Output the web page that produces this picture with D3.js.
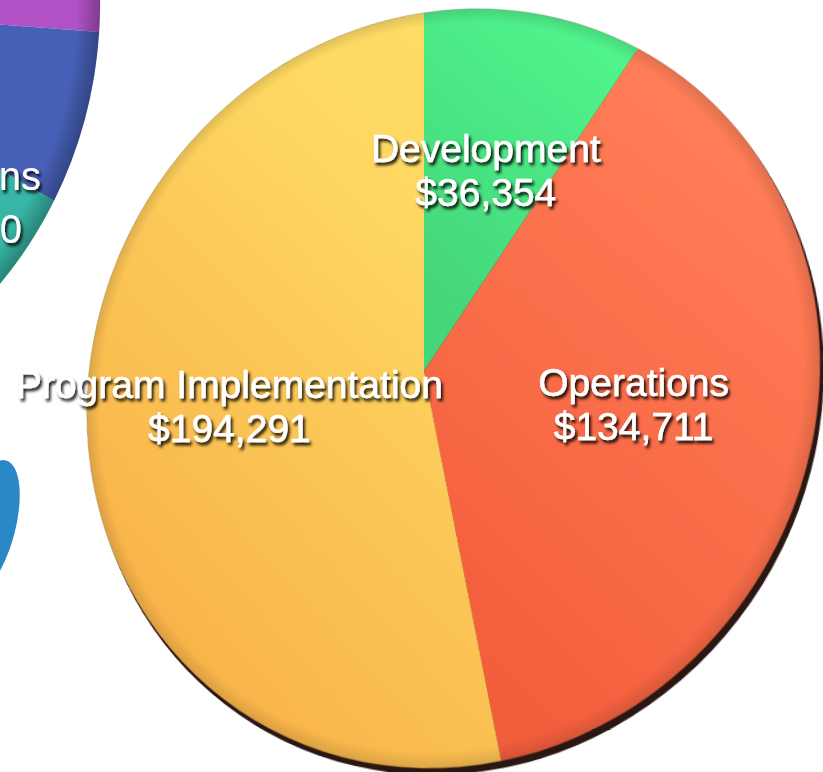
<!DOCTYPE html>
<html>
  <head>
    <meta charset="utf-8">
    <title>Budget by program</title>
    <script src="https://cdn.jsdelivr.net/npm/d3@7/dist/d3.min.js"></script>
    <style>
      body { margin: 0; background: #fff; overflow: hidden; }
      #stage { position: relative; width: 823px; height: 772px; overflow: hidden; }
      #stage svg { position: absolute; overflow: visible; }
      text { font-family: "Liberation Sans", Arial, sans-serif; fill: #fff; }
    </style>
  </head>

  <body>
    <div id="stage">
      <svg id="sideChart" width="823" height="772"></svg>
      <svg id="pieChart"></svg>
      <svg id="labels" width="823" height="772"></svg>
    </div>

    <script>
      // data
      const categories = ["Development", "Operations", "Program Implementation"];
      const amounts = [36354, 134711, 194291];

      // neighbouring pies of the carousel (only their edges are in view)
      const sideShares = [26.1, 6.7, 20, 47.2];
      const sideLabels = ["ns", "0"];
      const farShares = [100];

      // styles
      const sliceStops = [
        [["0", "#3fcc73"], ["0.6", "#45d87b"], ["1", "#52f88f"]],
        [["0", "#ea5334"], ["0.37", "#f5613f"], ["0.9", "#ff7b55"], ["1", "#ff8159"]],
        [["0", "#f8b148"], ["0.65", "#fed862"], ["1", "#ffe068"]]
      ];
      const sideColours = ["#b052c5", "#4760b7", "#37b6a7", "#e0607a"];
      const farColour = "#2a88c9";

      const R = 385;
      const centre = [424, 371];
      const tiltCss = "perspective(1535px) rotateX(11.9deg) rotateY(-19.1deg)";
      const size = 2 * (R + 30);

      pie = d3.pie().sort(null).value(d => d);
      arc = d3.arc().innerRadius(0).outerRadius(R);
      labelArc = d3.arc().innerRadius(R * .56).outerRadius(R * .56);
      unitArc = d3.arc().innerRadius(0).outerRadius(1);
      money = v => "$" + d3.format(",")(v);

      // side pies, flat on the page
      side = d3.select("#sideChart");
      sideDefs = side.append("defs");
      sideRim = sideDefs.append("radialGradient").attr("id", "sideRim");
      sideRim.append("stop").attr("offset", "0.94").attr("stop-color", "#000").attr("stop-opacity", 0);
      sideRim.append("stop").attr("offset", "1").attr("stop-color", "#000").attr("stop-opacity", .28);

      sidePie = side.append("g")
        .attr("transform", "translate(-290,3) scale(390,420)");
      sidePie.selectAll("path")
          .data(pie(sideShares))
        .enter().append("path")
          .attr("d", unitArc)
          .attr("fill", (d, i) => sideColours[i]);
      sidePie.append("circle")
        .attr("r", 1)
        .attr("fill", "url(#sideRim)");

      farPie = side.append("g")
        .attr("transform", "translate(-12,528) rotate(15) scale(27,70)");
      farPie.selectAll("path")
          .data(pie(farShares))
        .enter().append("path")
          .attr("d", unitArc)
          .attr("fill", farColour);

      // main pie, tilted in 3D
      chart = d3.select("#pieChart")
        .attr("width", size)
        .attr("height", size)
        .style("left", (centre[0] - size / 2) + "px")
        .style("top", (centre[1] - size / 2) + "px")
        .style("transform-origin", "50% 50%")
        .style("transform", tiltCss);

      defs = chart.append("defs");
      sliceStops.forEach(function(stops, i) {
        let g = defs.append("linearGradient")
          .attr("id", "slice" + i)
          .attr("gradientUnits", "userSpaceOnUse")
          .attr("x1", -.75 * R).attr("y1", .75 * R)
          .attr("x2", .75 * R).attr("y2", -.75 * R);
        stops.forEach(s => g.append("stop").attr("offset", s[0]).attr("stop-color", s[1]));
      });
      rim = defs.append("radialGradient").attr("id", "rim");
      rim.append("stop").attr("offset", "0.96").attr("stop-color", "#000").attr("stop-opacity", 0);
      rim.append("stop").attr("offset", "1").attr("stop-color", "#000").attr("stop-opacity", .12);

      pieGroup = chart.append("g")
        .attr("transform", "translate(" + size / 2 + "," + size / 2 + ")");

      // disc thickness, seen on the lower right
      pieGroup.append("circle")
        .attr("cx", 3)
        .attr("cy", 6)
        .attr("r", R)
        .attr("fill", "#2a1711");

      pieGroup.selectAll(".slice")
          .data(pie(amounts))
        .enter().append("path")
          .classed("slice", true)
          .attr("d", arc)
          .attr("fill", (d, i) => "url(#slice" + i + ")");

      pieGroup.append("circle")
        .attr("r", R)
        .attr("fill", "url(#rim)")
        .attr("stroke", "rgba(60,50,45,.3)")
        .attr("stroke-width", .8);

      // labels stay flat, placed at the projected centroid
      tilt = new DOMMatrix(tiltCss);
      function project(p) {
        let q = tilt.transformPoint(new DOMPoint(p[0], p[1], 0, 1));
        return [centre[0] + q.x / q.w, centre[1] + q.y / q.w];
      }

      labels = d3.select("#labels");
      labelDefs = labels.append("defs");
      labelDefs.append("filter")
          .attr("id", "shadow")
          .attr("x", "-20%").attr("y", "-40%")
          .attr("width", "140%").attr("height", "180%")
        .append("feDropShadow")
          .attr("dx", 2).attr("dy", 3)
          .attr("stdDeviation", 1.4)
          .attr("flood-color", "#000")
          .attr("flood-opacity", .9);

      tags = labels.selectAll(".tag")
          .data(pie(amounts))
        .enter().append("g")
          .classed("tag", true)
          .attr("transform", d => "translate(" + project(labelArc.centroid(d)) + ")")
          .attr("filter", "url(#shadow)")
          .style("font-size", "39px")
          .attr("text-anchor", "middle");
      tags.append("text")
        .attr("y", -7)
        .attr("stroke", "#fff")
        .attr("stroke-width", .5)
        .text((d, i) => categories[i]);
      tags.append("text")
        .attr("y", 37)
        .attr("stroke", "#fff")
        .attr("stroke-width", .5)
        .text(d => money(d.data));

      sideTags = labels.append("g")
        .attr("filter", "url(#shadow)")
        .style("font-size", "40px")
        .attr("text-anchor", "end");
      sideTags.append("text").attr("x", 41).attr("y", 190).text(sideLabels[0]);
      sideTags.append("text").attr("x", 22).attr("y", 243).text(sideLabels[1]);
    </script>
  </body>
</html>
